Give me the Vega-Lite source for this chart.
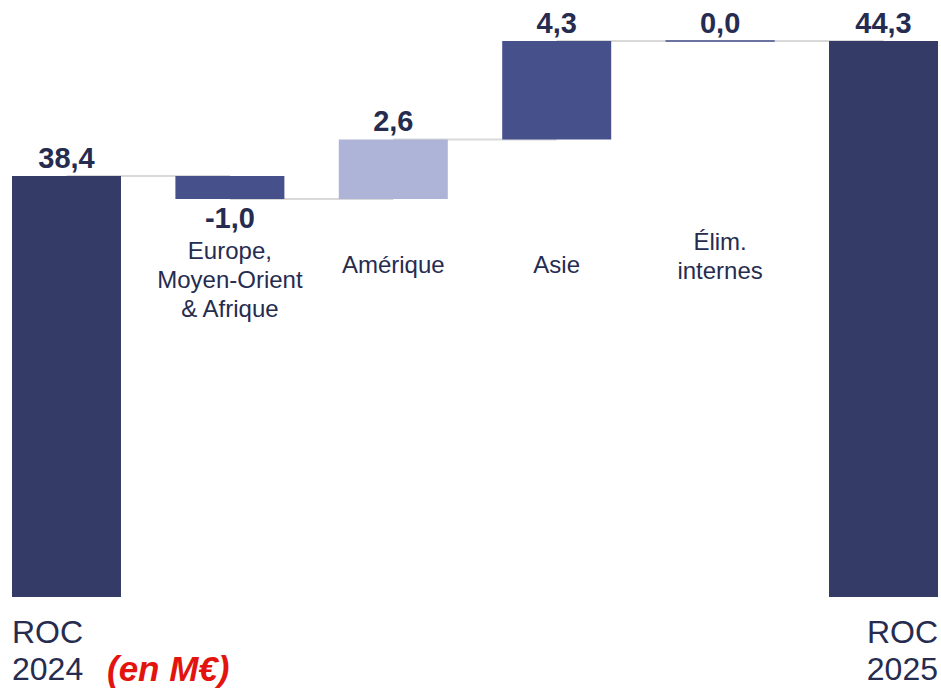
{
  "$schema": "https://vega.github.io/schema/vega-lite/v6.json",
  "width": 941,
  "height": 688,
  "padding": 0,
  "autosize": {"type": "none"},
  "background": "white",
  "config": {"view": {"stroke": null}, "font": "Liberation Sans"},
  "data": {
    "values": [
      {"cat": "ROC 2024", "start": 20, "end": 38.4, "value": "38,4", "kind": "total", "next": "Europe", "label": ["ROC", "2024"], "group": "roc"},
      {"cat": "Europe", "start": 38.4, "end": 37.4, "value": "-1,0", "kind": "neg", "next": "Amérique", "label": ["Europe,", "Moyen-Orient", "& Afrique"], "group": "a"},
      {"cat": "Amérique", "start": 37.4, "end": 40.0, "value": "2,6", "kind": "light", "next": "Asie", "label": ["Amérique"], "group": "b"},
      {"cat": "Asie", "start": 40.0, "end": 44.3, "value": "4,3", "kind": "pos", "next": "Élim", "label": ["Asie"], "group": "b"},
      {"cat": "Élim", "start": 44.3, "end": 44.3, "value": "0,0", "kind": "zero", "next": "ROC 2025", "label": ["Élim.", "internes"], "group": "c"},
      {"cat": "ROC 2025", "start": 20, "end": 44.3, "value": "44,3", "kind": "total", "next": null, "label": ["ROC", "2025"], "group": "roc2"}
    ]
  },
  "encoding": {
    "x": {
      "field": "cat", "type": "nominal", "sort": null, "axis": null,
      "scale": {"range": [12, 938], "paddingInner": 0.333, "paddingOuter": 0}
    }
  },
  "layer": [
    {
      "transform": [{"filter": "datum.next != null"}],
      "mark": {"type": "rule", "color": "#d9d9d9", "strokeWidth": 2},
      "encoding": {
        "x": {"field": "cat", "type": "nominal", "sort": null, "bandPosition": 0.5},
        "x2": {"field": "next"},
        "y": {"field": "end", "type": "quantitative", "axis": null, "scale": {"domain": [20, 44.3], "range": [597, 41], "zero": false, "nice": false}}
      }
    },
    {
      "mark": {"type": "bar", "strokeWidth": 1},
      "encoding": {
        "y": {"field": "start", "type": "quantitative"},
        "y2": {"field": "end"},
        "color": {
          "field": "kind", "type": "nominal", "legend": null,
          "scale": {"domain": ["total", "neg", "light", "pos", "zero"], "range": ["#353b67", "#46518c", "#aeb4d7", "#46518c", "#46518c"]}
        },
        "stroke": {
          "field": "kind", "type": "nominal", "legend": null,
          "scale": {"domain": ["total", "neg", "light", "pos", "zero"], "range": ["transparent", "transparent", "transparent", "transparent", "#46518c"]}
        }
      }
    },
    {
      "transform": [{"filter": "datum.kind != 'neg'"}],
      "mark": {"type": "text", "fontSize": 29, "fontWeight": "bold", "color": "#262c50", "baseline": "alphabetic", "dy": -8},
      "encoding": {
        "y": {"field": "end", "type": "quantitative"},
        "text": {"field": "value"}
      }
    },
    {
      "transform": [{"filter": "datum.kind == 'neg'"}],
      "mark": {"type": "text", "fontSize": 29, "fontWeight": "bold", "color": "#262c50", "baseline": "top", "dy": 6},
      "encoding": {
        "y": {"field": "end", "type": "quantitative"},
        "text": {"field": "value"}
      }
    },
    {
      "transform": [{"filter": "datum.group == 'a'"}],
      "mark": {"type": "text", "fontSize": 24, "color": "#262c50", "baseline": "middle", "lineHeight": 29},
      "encoding": {
        "y": {"datum": 35.08},
        "text": {"field": "label"}
      }
    },
    {
      "transform": [{"filter": "datum.group == 'b'"}],
      "mark": {"type": "text", "fontSize": 24, "color": "#262c50", "baseline": "middle", "lineHeight": 29},
      "encoding": {
        "y": {"datum": 34.47},
        "text": {"field": "label"}
      }
    },
    {
      "transform": [{"filter": "datum.group == 'c'"}],
      "mark": {"type": "text", "fontSize": 24, "color": "#262c50", "baseline": "middle", "lineHeight": 29},
      "encoding": {
        "y": {"datum": 35.47},
        "text": {"field": "label"}
      }
    },
    {
      "transform": [{"filter": "datum.group == 'roc'"}],
      "mark": {"type": "text", "fontSize": 32, "color": "#262c50", "baseline": "middle", "align": "left", "lineHeight": 37},
      "encoding": {
        "x": {"field": "cat", "type": "nominal", "sort": null, "bandPosition": 0},
        "y": {"datum": 18.43},
        "text": {"field": "label"}
      }
    },
    {
      "transform": [{"filter": "datum.group == 'roc2'"}],
      "mark": {"type": "text", "fontSize": 32, "color": "#262c50", "baseline": "middle", "align": "right", "lineHeight": 37},
      "encoding": {
        "x": {"field": "cat", "type": "nominal", "sort": null, "bandPosition": 1},
        "y": {"datum": 18.43},
        "text": {"field": "label"}
      }
    },
    {
      "transform": [{"filter": "datum.group == 'roc'"}],
      "mark": {"type": "text", "fontSize": 35, "fontWeight": "bold", "fontStyle": "italic", "color": "#e3140f", "baseline": "middle", "align": "left", "dx": -14, "text": "(en M€)"},
      "encoding": {
        "x": {"field": "cat", "type": "nominal", "sort": null, "bandPosition": 1},
        "y": {"datum": 16.81}
      }
    }
  ]
}
